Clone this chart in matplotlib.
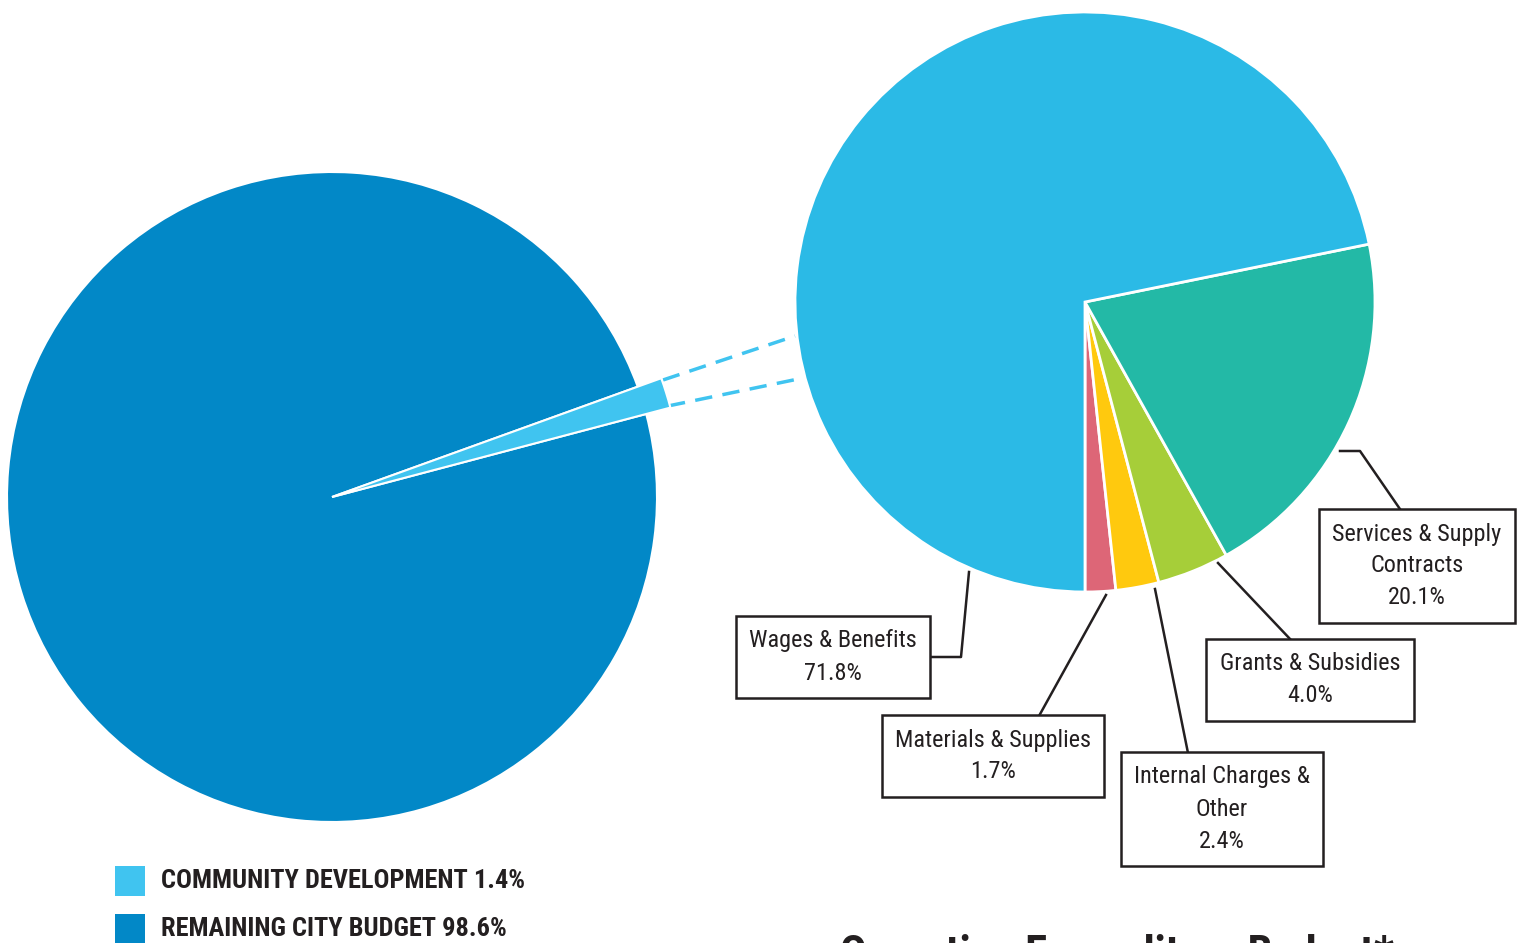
import matplotlib
matplotlib.use("Agg")
import matplotlib.pyplot as plt
from matplotlib import font_manager

W, H = 1527, 943

# ---------------------------------------------
# Data

city_labels = ["COMMUNITY DEVELOPMENT", "REMAINING CITY BUDGET"]
city_values = [1.4, 98.6]
city_colors = ["#40C4F0", "#0288C7"]

exp_labels = ["Materials & Supplies", "Internal Charges &\nOther", "Grants & Subsidies",
              "Services & Supply\nContracts", "Wages & Benefits"]
exp_values = [1.7, 2.4, 4.0, 20.1, 71.8]
exp_colors = ["#DD6677", "#FFC90E", "#A6CE39", "#23B9A6", "#2BBAE6"]

title = "Operating Expenditure Budget*"

# pick a condensed face close to the original, fall back to DejaVu
names = {f.name for f in font_manager.fontManager.ttflist}
prefs = ["Roboto Condensed", "PT Sans Narrow", "Open Sans Condensed", "Archivo Narrow",
         "Asap Condensed", "Liberation Sans Narrow"]
narrow = next((p for p in prefs if p in names), "DejaVu Sans")
FAM = [narrow, "DejaVu Sans"]


def Y(y):
    return H - y


fig = plt.figure(figsize=(W / 100, H / 100), dpi=100)
ax = fig.add_axes([0, 0, 1, 1])

# left pie
wedges, _ = ax.pie(city_values, colors=city_colors, center=(332, Y(497)), radius=325,
                   startangle=14.8, counterclock=True,
                   wedgeprops=dict(edgecolor="white", linewidth=1.5))
wedges[0].set_radius(350)
wedges[0].set_zorder(3)

# dashed connectors
ax.plot([663, 795], [Y(380), Y(336)], color="#40C4F0", lw=2.5, ls=(0, (5, 3)))
ax.plot([668, 803], [Y(406), Y(378)], color="#40C4F0", lw=2.5, ls=(0, (5, 3)))

# right pie
ax.pie(exp_values, colors=exp_colors, center=(1085, Y(302)), radius=290,
       startangle=270, counterclock=True,
       wedgeprops=dict(edgecolor="white", linewidth=2))

# pie() resets the limits, so set them afterwards
ax.set_xlim(0, W)
ax.set_ylim(0, H)
ax.set_aspect("equal")
ax.axis("off")

# label boxes and leader lines
label_pos = [(993, 756), (1222, 809), (1310, 680), (1417, 566), (833, 657)]
leaders = [
    [(1106, 595), (1039, 716)],
    [(1155, 589), (1188, 753)],
    [(1218, 563), (1291, 640)],
    [(1340, 451), (1360, 451), (1402, 512)],
    [(969, 572), (961, 657), (926, 657)],
]
for lab, val, (lx, ly), pts in zip(exp_labels, exp_values, label_pos, leaders):
    ax.plot([p[0] for p in pts], [Y(p[1]) for p in pts], color="#231F20", lw=1.8, zorder=4)
    ax.text(lx, Y(ly), f"{lab}\n{val:.1f}%", ha="center", va="center", fontsize=17.5,
            family=FAM, color="#231F20", linespacing=1.5,
            bbox=dict(boxstyle="square,pad=0.55", fc="white", ec="#231F20", lw=1.8), zorder=5)

# legend
for i, (lab, val, col) in enumerate(zip(city_labels, city_values, city_colors)):
    y0 = 881 + i * 48
    ax.add_patch(plt.Rectangle((115, Y(y0) - 15), 30, 30, color=col, lw=0))
    ax.text(161, Y(y0), f"{lab} {val}%", ha="left", va="center", fontsize=19,
            family=FAM, fontweight="bold", color="#231F20")

ax.text(840, Y(934), title, ha="left", va="top", fontsize=32, family=FAM,
        fontweight="bold", color="#231F20")

fig.savefig("out.png", dpi=100)
